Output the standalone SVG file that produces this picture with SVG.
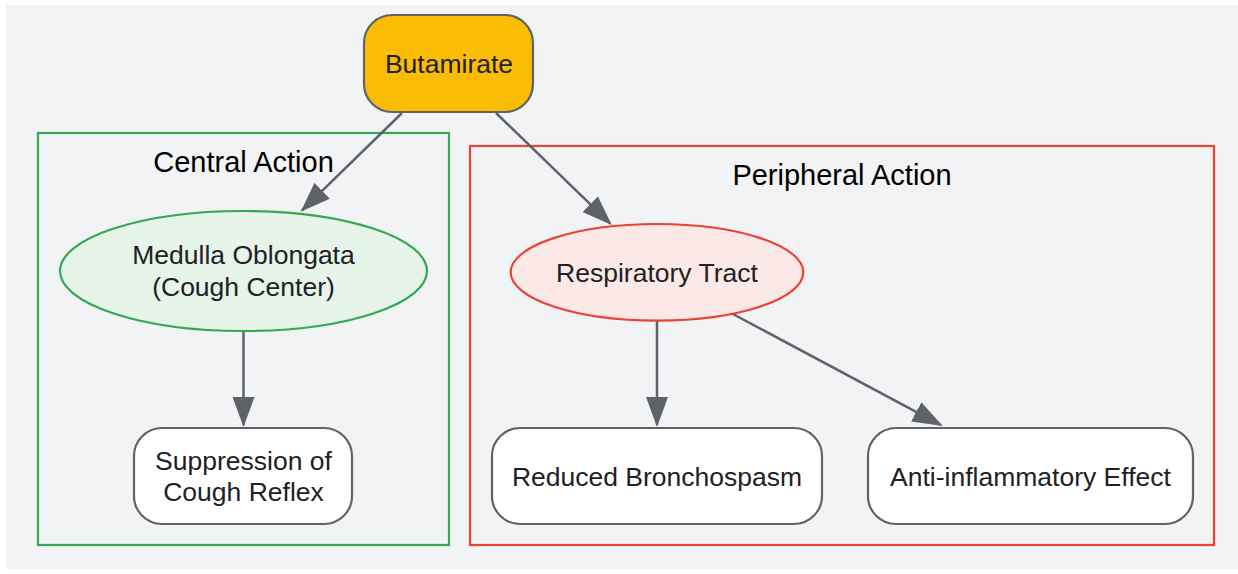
<svg xmlns="http://www.w3.org/2000/svg" width="1238" height="574" viewBox="0 0 1238 574">
<style>
.bg{fill:#f1f3f4}
.cl{fill:none;stroke-width:2.2}
.cltxt{font-family:"Liberation Sans",Arial,sans-serif;font-size:29px;fill:#000;text-anchor:middle}
.txt{font-family:"Liberation Sans",Arial,sans-serif;font-size:26.5px;fill:#202124;text-anchor:middle}
.box{fill:#ffffff;stroke:#5f6368;stroke-width:2.2}
.edge{fill:none;stroke:#5f6368;stroke-width:2.5}
</style>
<defs>
<marker id="arr" viewBox="0 0 30 22" refX="28" refY="11" markerWidth="30" markerHeight="22" markerUnits="userSpaceOnUse" orient="auto">
<path d="M0,0 L30,11 L0,22 z" fill="#5f6368"/>
</marker>
</defs>
<rect class="bg" x="6" y="5" width="1232" height="564"/>
<g id="cluster_central">
<rect class="cl" x="38" y="133" width="411" height="412" stroke="#34a853"/>
<text class="cltxt" x="243.5" y="172">Central Action</text>
</g>
<g id="cluster_peripheral">
<rect class="cl" x="470" y="146" width="744" height="399" stroke="#ea4335"/>
<text class="cltxt" x="842" y="185">Peripheral Action</text>
</g>
<g id="connectors">
<path class="edge" d="M402,113 L302.1,210.3" marker-end="url(#arr)"/>
<path class="edge" d="M496,113 L610.3,223.6" marker-end="url(#arr)"/>
<path class="edge" d="M243.5,332 L243.5,425" marker-end="url(#arr)"/>
<path class="edge" d="M657,321 L657,425" marker-end="url(#arr)"/>
<path class="edge" d="M732,313.5 L940.9,425.1" marker-end="url(#arr)"/>
</g>
<g id="butamirate">
<rect x="364" y="15" width="169" height="97" rx="28" ry="28" fill="#fbbc04" stroke="#5f6368" stroke-width="2.2"/>
<text class="txt" x="449" y="73">Butamirate</text>
</g>
<g id="medulla">
<ellipse cx="243.5" cy="271" rx="183.5" ry="60" fill="#e6f4ea" stroke="#34a853" stroke-width="2.2"/>
<text class="txt" x="243.5" y="264">Medulla Oblongata</text>
<text class="txt" x="243.5" y="296">(Cough Center)</text>
</g>
<g id="respiratory">
<ellipse cx="657" cy="272.3" rx="146.3" ry="48.3" fill="#fce8e6" stroke="#ea4335" stroke-width="2.2"/>
<text class="txt" x="657" y="281.5">Respiratory Tract</text>
</g>
<g id="suppression">
<rect class="box" x="134" y="428" width="218" height="96" rx="28" ry="28"/>
<text class="txt" x="243.5" y="470">Suppression of</text>
<text class="txt" x="243.5" y="501">Cough Reflex</text>
</g>
<g id="bronchospasm">
<rect class="box" x="492" y="428" width="330" height="96" rx="28" ry="28"/>
<text class="txt" x="657" y="486">Reduced Bronchospasm</text>
</g>
<g id="antiinflammatory">
<rect class="box" x="868" y="428" width="325" height="96" rx="28" ry="28"/>
<text class="txt" x="1030.5" y="486">Anti-inflammatory Effect</text>
</g>
</svg>
